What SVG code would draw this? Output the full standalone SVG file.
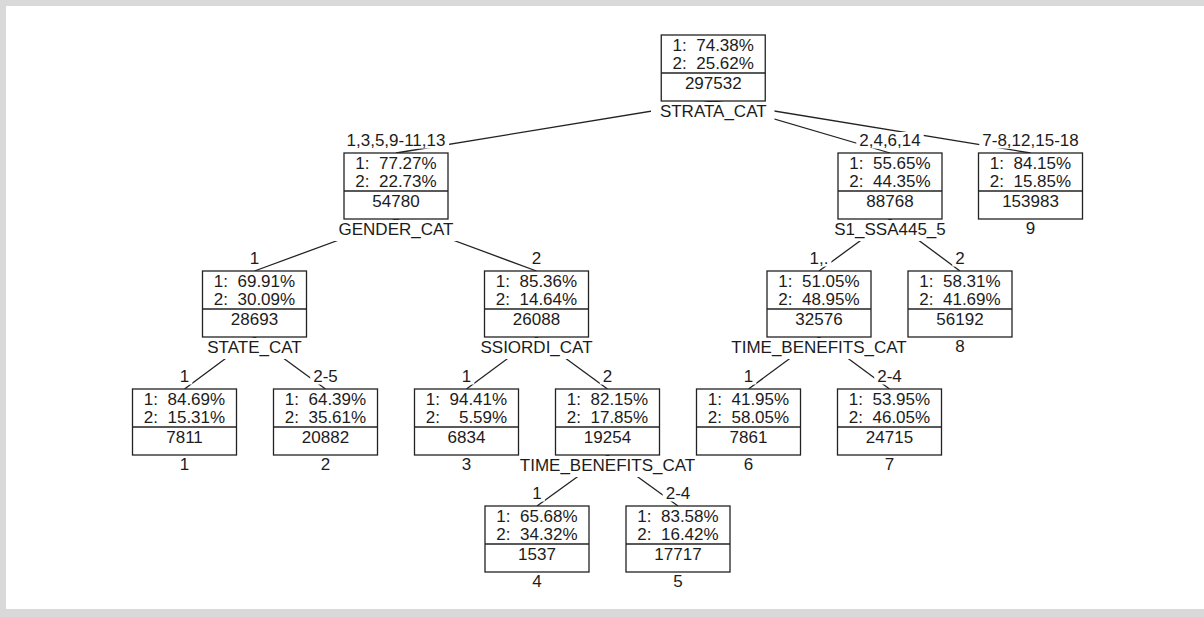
<svg xmlns="http://www.w3.org/2000/svg" width="1204" height="617" viewBox="0 0 1204 617">
<style>
text{font-family:"Liberation Sans",Arial,sans-serif;font-size:17px;fill:#1c1c1c;text-anchor:middle;white-space:pre}
.box{fill:#fff;stroke:#222;stroke-width:1.3}
.div{stroke:#222;stroke-width:1.3}
.edge{stroke:#222;stroke-width:1.3;fill:none}
.mask{fill:#fff;stroke:none}
</style>
<rect x="0" y="0" width="1204" height="617" fill="#d9d9d9"/>
<rect x="6" y="6" width="1198" height="603" fill="#fff"/>

<g id="connectors">
<line class="edge" x1="713.25" y1="101" x2="396" y2="153"/>
<line class="edge" x1="713.25" y1="101" x2="890" y2="153"/>
<line class="edge" x1="713.25" y1="101" x2="1030.5" y2="153"/>
<line class="edge" x1="396" y1="219" x2="254.5" y2="271"/>
<line class="edge" x1="396" y1="219" x2="536.5" y2="271"/>
<line class="edge" x1="254.5" y1="337" x2="184.5" y2="389"/>
<line class="edge" x1="254.5" y1="337" x2="325.5" y2="389"/>
<line class="edge" x1="536.5" y1="337" x2="466.5" y2="389"/>
<line class="edge" x1="536.5" y1="337" x2="607.5" y2="389"/>
<line class="edge" x1="607.5" y1="455" x2="537" y2="506"/>
<line class="edge" x1="607.5" y1="455" x2="678" y2="506"/>
<line class="edge" x1="890" y1="219" x2="819" y2="271"/>
<line class="edge" x1="890" y1="219" x2="960" y2="271"/>
<line class="edge" x1="819" y1="337" x2="748.5" y2="389"/>
<line class="edge" x1="819" y1="337" x2="889.5" y2="389"/>

<rect class="mask" x="342.9" y="132" width="106.2" height="16.5"/><text x="396" y="146" xml:space="preserve">1,3,5,9-11,13</text>
<rect class="mask" x="856.3" y="132" width="67.4" height="16.5"/><text x="890" y="146" xml:space="preserve">2,4,6,14</text>
<rect class="mask" x="979.3" y="132" width="102.4" height="16.5"/><text x="1030.5" y="146" xml:space="preserve">7-8,12,15-18</text>
<rect class="mask" x="246.8" y="250" width="15.5" height="16.5"/><text x="254.5" y="264">1</text>
<rect class="mask" x="528.8" y="250" width="15.5" height="16.5"/><text x="536.5" y="264">2</text>
<rect class="mask" x="176.8" y="368" width="15.5" height="16.5"/><text x="184.5" y="382">1</text>
<rect class="mask" x="310.2" y="368" width="30.6" height="16.5"/><text x="325.5" y="382">2-5</text>
<rect class="mask" x="458.8" y="368" width="15.5" height="16.5"/><text x="466.5" y="382">1</text>
<rect class="mask" x="599.8" y="368" width="15.5" height="16.5"/><text x="607.5" y="382">2</text>
<rect class="mask" x="529.3" y="485" width="15.5" height="16.5"/><text x="537" y="499">1</text>
<rect class="mask" x="662.7" y="485" width="30.6" height="16.5"/><text x="678" y="499">2-4</text>
<rect class="mask" x="806.5" y="250" width="24.9" height="16.5"/><text x="819" y="264">1,.</text>
<rect class="mask" x="952.3" y="250" width="15.5" height="16.5"/><text x="960" y="264">2</text>
<rect class="mask" x="740.8" y="368" width="15.5" height="16.5"/><text x="748.5" y="382">1</text>
<rect class="mask" x="874.2" y="368" width="30.6" height="16.5"/><text x="889.5" y="382">2-4</text>
</g>

<g id="node1">
<rect class="box" x="661.25" y="35" width="104" height="66"/>
<line class="div" x1="661.25" y1="73" x2="765.25" y2="73"/>
<text x="713.25" y="51" xml:space="preserve">1:  74.38%</text>
<text x="713.25" y="68.5" xml:space="preserve">2:  25.62%</text>
<text x="713.25" y="89">297532</text>
<rect class="mask" x="651" y="102" width="123.5" height="21"/>
<text x="713.25" y="117">STRATA_CAT</text>
</g>

<g id="node2">
<rect class="box" x="344" y="153" width="104" height="66"/>
<line class="div" x1="344" y1="191" x2="448" y2="191"/>
<text x="396" y="169" xml:space="preserve">1:  77.27%</text>
<text x="396" y="186.5" xml:space="preserve">2:  22.73%</text>
<text x="396" y="207">54780</text>
<rect class="mask" x="330.9" y="220" width="129.2" height="21"/>
<text x="396" y="235">GENDER_CAT</text>
</g>

<g id="node3">
<rect class="box" x="202.5" y="271" width="104" height="66"/>
<line class="div" x1="202.5" y1="309" x2="306.5" y2="309"/>
<text x="254.5" y="287" xml:space="preserve">1:  69.91%</text>
<text x="254.5" y="304.5" xml:space="preserve">2:  30.09%</text>
<text x="254.5" y="325">28693</text>
<rect class="mask" x="198.4" y="338" width="111.2" height="21"/>
<text x="254.5" y="353">STATE_CAT</text>
</g>

<g id="leaf1">
<rect class="box" x="132.5" y="389" width="104" height="66"/>
<line class="div" x1="132.5" y1="427" x2="236.5" y2="427"/>
<text x="184.5" y="405" xml:space="preserve">1:  84.69%</text>
<text x="184.5" y="422.5" xml:space="preserve">2:  15.31%</text>
<text x="184.5" y="443">7811</text>
<text x="184.5" y="470">1</text>
</g>

<g id="leaf2">
<rect class="box" x="273.5" y="389" width="104" height="66"/>
<line class="div" x1="273.5" y1="427" x2="377.5" y2="427"/>
<text x="325.5" y="405" xml:space="preserve">1:  64.39%</text>
<text x="325.5" y="422.5" xml:space="preserve">2:  35.61%</text>
<text x="325.5" y="443">20882</text>
<text x="325.5" y="470">2</text>
</g>

<g id="node4">
<rect class="box" x="484.5" y="271" width="104" height="66"/>
<line class="div" x1="484.5" y1="309" x2="588.5" y2="309"/>
<text x="536.5" y="287" xml:space="preserve">1:  85.36%</text>
<text x="536.5" y="304.5" xml:space="preserve">2:  14.64%</text>
<text x="536.5" y="325">26088</text>
<rect class="mask" x="472.8" y="338" width="126.4" height="21"/>
<text x="536.5" y="353">SSIORDI_CAT</text>
</g>

<g id="leaf3">
<rect class="box" x="414.5" y="389" width="104" height="66"/>
<line class="div" x1="414.5" y1="427" x2="518.5" y2="427"/>
<text x="466.5" y="405" xml:space="preserve">1:  94.41%</text>
<text x="466.5" y="422.5" xml:space="preserve">2:    5.59%</text>
<text x="466.5" y="443">6834</text>
<text x="466.5" y="470">3</text>
</g>

<g id="node5">
<rect class="box" x="555.5" y="389" width="104" height="66"/>
<line class="div" x1="555.5" y1="427" x2="659.5" y2="427"/>
<text x="607.5" y="405" xml:space="preserve">1:  82.15%</text>
<text x="607.5" y="422.5" xml:space="preserve">2:  17.85%</text>
<text x="607.5" y="443">19254</text>
<rect class="mask" x="512.2" y="456" width="189.6" height="21"/>
<text x="607.5" y="471">TIME_BENEFITS_CAT</text>
</g>

<g id="leaf4">
<rect class="box" x="485" y="506" width="104" height="66"/>
<line class="div" x1="485" y1="544" x2="589" y2="544"/>
<text x="537" y="522" xml:space="preserve">1:  65.68%</text>
<text x="537" y="539.5" xml:space="preserve">2:  34.32%</text>
<text x="537" y="560">1537</text>
<text x="537" y="587">4</text>
</g>

<g id="leaf5">
<rect class="box" x="626" y="506" width="104" height="66"/>
<line class="div" x1="626" y1="544" x2="730" y2="544"/>
<text x="678" y="522" xml:space="preserve">1:  83.58%</text>
<text x="678" y="539.5" xml:space="preserve">2:  16.42%</text>
<text x="678" y="560">17717</text>
<text x="678" y="587">5</text>
</g>

<g id="node6">
<rect class="box" x="838" y="153" width="104" height="66"/>
<line class="div" x1="838" y1="191" x2="942" y2="191"/>
<text x="890" y="169" xml:space="preserve">1:  55.65%</text>
<text x="890" y="186.5" xml:space="preserve">2:  44.35%</text>
<text x="890" y="207">88768</text>
<rect class="mask" x="827.3" y="220" width="124.5" height="21"/>
<text x="890" y="235">S1_SSA445_5</text>
</g>

<g id="node7">
<rect class="box" x="767" y="271" width="104" height="66"/>
<line class="div" x1="767" y1="309" x2="871" y2="309"/>
<text x="819" y="287" xml:space="preserve">1:  51.05%</text>
<text x="819" y="304.5" xml:space="preserve">2:  48.95%</text>
<text x="819" y="325">32576</text>
<rect class="mask" x="723.7" y="338" width="189.6" height="21"/>
<text x="819" y="353">TIME_BENEFITS_CAT</text>
</g>

<g id="leaf6">
<rect class="box" x="696.5" y="389" width="104" height="66"/>
<line class="div" x1="696.5" y1="427" x2="800.5" y2="427"/>
<text x="748.5" y="405" xml:space="preserve">1:  41.95%</text>
<text x="748.5" y="422.5" xml:space="preserve">2:  58.05%</text>
<text x="748.5" y="443">7861</text>
<text x="748.5" y="470">6</text>
</g>

<g id="leaf7">
<rect class="box" x="837.5" y="389" width="104" height="66"/>
<line class="div" x1="837.5" y1="427" x2="941.5" y2="427"/>
<text x="889.5" y="405" xml:space="preserve">1:  53.95%</text>
<text x="889.5" y="422.5" xml:space="preserve">2:  46.05%</text>
<text x="889.5" y="443">24715</text>
<text x="889.5" y="470">7</text>
</g>

<g id="leaf8">
<rect class="box" x="908" y="271" width="104" height="66"/>
<line class="div" x1="908" y1="309" x2="1012" y2="309"/>
<text x="960" y="287" xml:space="preserve">1:  58.31%</text>
<text x="960" y="304.5" xml:space="preserve">2:  41.69%</text>
<text x="960" y="325">56192</text>
<text x="960" y="352">8</text>
</g>

<g id="leaf9">
<rect class="box" x="978.5" y="153" width="104" height="66"/>
<line class="div" x1="978.5" y1="191" x2="1082.5" y2="191"/>
<text x="1030.5" y="169" xml:space="preserve">1:  84.15%</text>
<text x="1030.5" y="186.5" xml:space="preserve">2:  15.85%</text>
<text x="1030.5" y="207">153983</text>
<text x="1030.5" y="234">9</text>
</g>
</svg>
